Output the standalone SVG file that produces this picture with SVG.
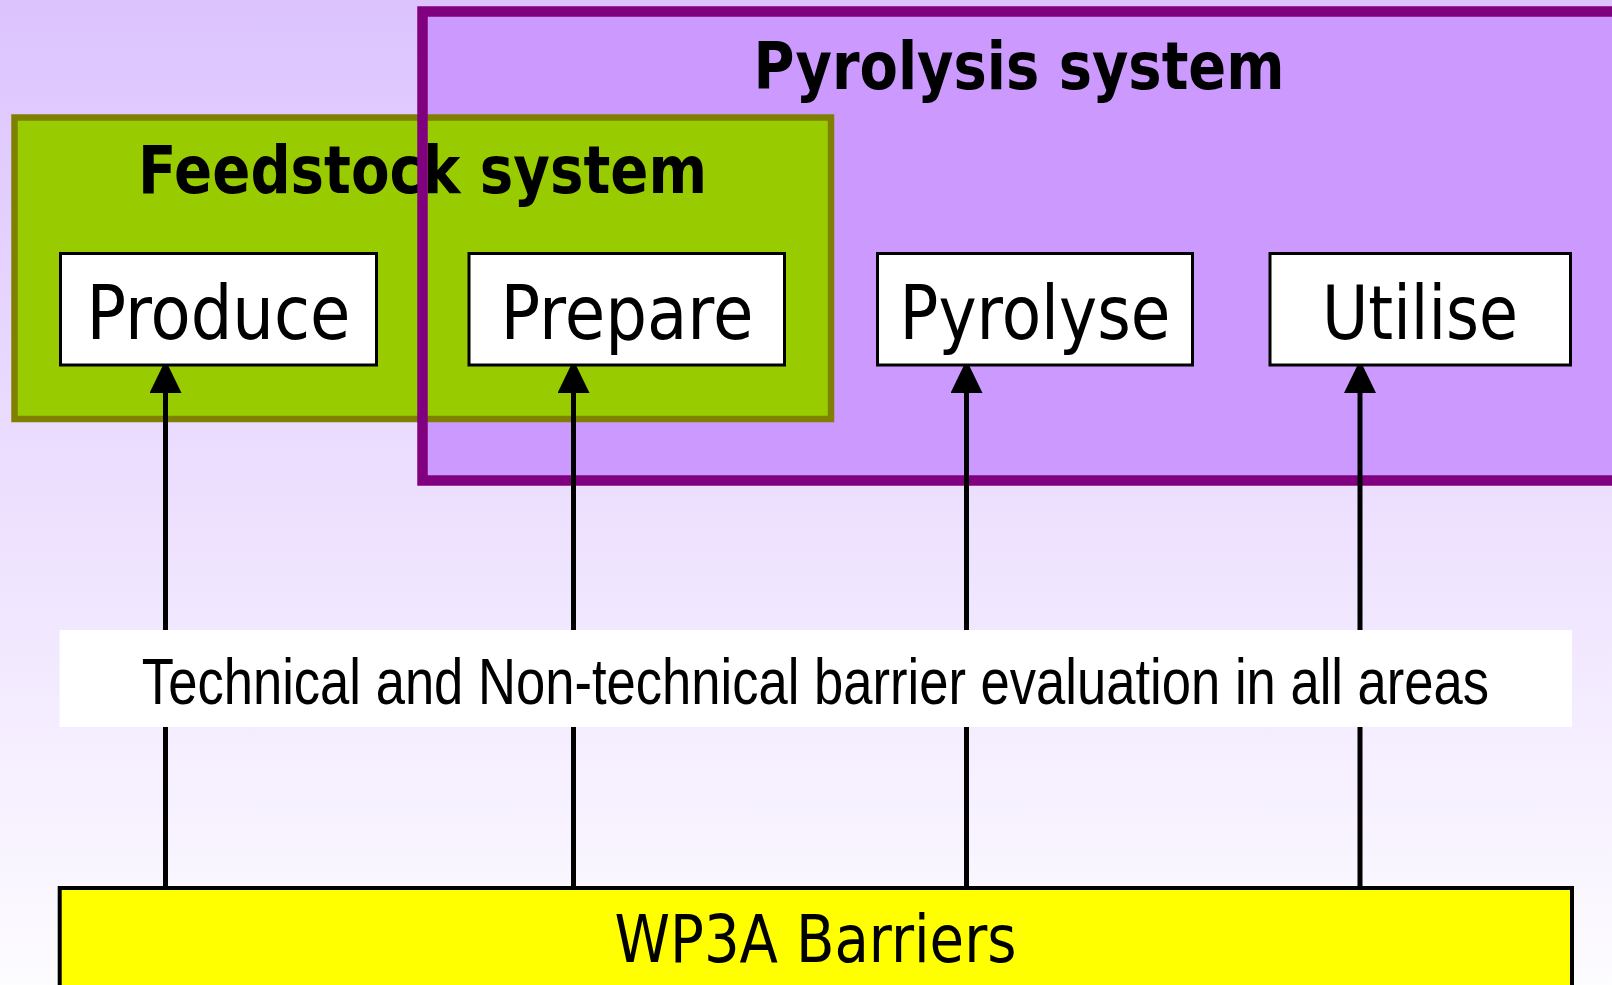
<svg xmlns="http://www.w3.org/2000/svg" width="1612" height="985" viewBox="0 0 1612 985">
  <defs>
    <linearGradient id="bg" x1="0" y1="0" x2="0" y2="1">
      <stop offset="0" stop-color="#dcc3fe"/>
      <stop offset="1" stop-color="#fdfcff"/>
    </linearGradient>
    <marker id="arrow" markerUnits="userSpaceOnUse" markerWidth="34" markerHeight="32" refX="0" refY="16" orient="auto" viewBox="0 0 34 32">
      <path d="M0,0 L33,16 L0,32 z" fill="#000"/>
    </marker>
    <style>
      .title { font-family: "DejaVu Sans", Verdana, sans-serif; font-weight: bold; font-size: 65px; fill: #000; }
      .label { font-family: "DejaVu Sans", Verdana, sans-serif; font-size: 74px; fill: #000; }
      .band { font-family: "Liberation Sans", Arial, sans-serif; font-size: 65px; fill: #000; }
      .node { fill: #fff; stroke: #000; stroke-width: 3; }
      .conn { stroke: #000; stroke-width: 5; fill: none; marker-end: url(#arrow); }
    </style>
  </defs>

  <rect x="0" y="0" width="1612" height="985" fill="url(#bg)"/>

  <g id="pyrolysis-system-fill">
    <rect x="422.5" y="11.5" width="1220" height="469" fill="#cc99ff"/>
    <text class="title" x="1019" y="88.5" text-anchor="middle" textLength="531" lengthAdjust="spacingAndGlyphs">Pyrolysis system</text>
  </g>

  <g id="feedstock-system">
    <rect x="14.5" y="117.5" width="816.5" height="301.5" fill="#99cc00" stroke="#808000" stroke-width="6.5"/>
    <text class="title" x="422.5" y="192.5" text-anchor="middle" textLength="569" lengthAdjust="spacingAndGlyphs">Feedstock system</text>
  </g>

  <g id="pyrolysis-system-border">
    <rect x="422.5" y="11.5" width="1220" height="469" fill="none" stroke="#800080" stroke-width="10.5"/>
  </g>

  <g id="connectors">
    <line class="conn" x1="165.5" y1="887" x2="165.5" y2="393"/>
    <line class="conn" x1="573.5" y1="887" x2="573.5" y2="393"/>
    <line class="conn" x1="966.5" y1="887" x2="966.5" y2="393"/>
    <line class="conn" x1="1360" y1="887" x2="1360" y2="393"/>
  </g>

  <g id="produce">
    <rect class="node" x="60.5" y="253.5" width="316" height="111.5"/>
    <text class="label" x="218.5" y="339" text-anchor="middle" textLength="264" lengthAdjust="spacingAndGlyphs">Produce</text>
  </g>
  <g id="prepare">
    <rect class="node" x="469" y="253.5" width="315.5" height="111.5"/>
    <text class="label" x="627" y="339" text-anchor="middle" textLength="253" lengthAdjust="spacingAndGlyphs">Prepare</text>
  </g>
  <g id="pyrolyse">
    <rect class="node" x="877.5" y="253.5" width="315" height="111.5"/>
    <text class="label" x="1035" y="339" text-anchor="middle" textLength="271" lengthAdjust="spacingAndGlyphs">Pyrolyse</text>
  </g>
  <g id="utilise">
    <rect class="node" x="1270" y="253.5" width="300.5" height="111.5"/>
    <text class="label" x="1420" y="339" text-anchor="middle" textLength="196" lengthAdjust="spacingAndGlyphs">Utilise</text>
  </g>

  <g id="barrier-evaluation">
    <rect x="59.6" y="630" width="1512.4" height="97" fill="#ffffff"/>
    <text class="band" transform="translate(815.5 704) scale(0.809 1)" x="0" y="0" text-anchor="middle">Technical and Non-technical barrier evaluation in all areas</text>
  </g>

  <g id="wp3a-barriers">
    <rect x="59.7" y="888" width="1512.3" height="200" fill="#ffff00" stroke="#000" stroke-width="4"/>
    <text class="label" x="815.5" y="962" style="font-size:65px" text-anchor="middle" textLength="402" lengthAdjust="spacingAndGlyphs">WP3A Barriers</text>
  </g>
</svg>
